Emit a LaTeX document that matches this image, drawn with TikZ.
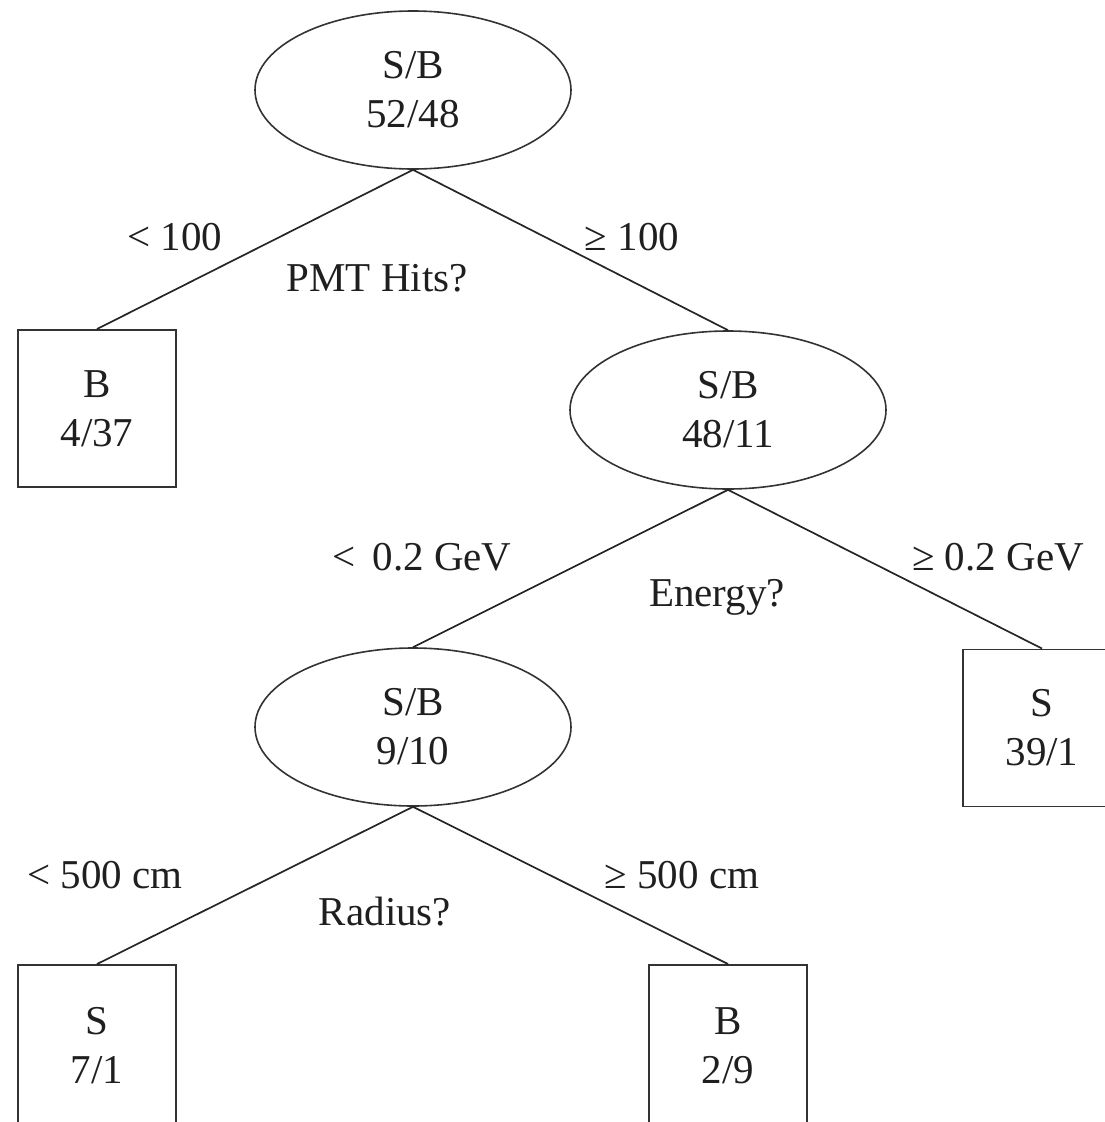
\documentclass[tikz,border=0pt]{standalone}
\usepackage{fontspec}
\setmainfont{Liberation Serif}
\usetikzlibrary{shapes.geometric}
\begin{document}
\begin{tikzpicture}[x=1pt,y=-1pt,
  every node/.style={font=\fontsize{41}{49}\selectfont, text=black!88, align=center},
  oval/.style={draw=black!80, line width=1.6pt, ellipse, inner sep=0pt, minimum width=316pt, minimum height=158pt},
  leaf/.style={draw=black!80, line width=1.9pt, rectangle, inner sep=0pt, minimum width=158pt, minimum height=157pt},
  edge/.style={draw=black!85, line width=1.7pt},
  lbl/.style={inner sep=0pt}]
\useasboundingbox (0,0) rectangle (1105,1122);
\clip (0,0) rectangle (1105,1122);
\node[oval] (r) at (413,90) {S/B\\52/48};
\node[leaf] (b1) at (97,408.5) {B\\4/37};
\node[oval] (e2) at (728,410) {S/B\\48/11};
\node[oval] (e3) at (413,727) {S/B\\9/10};
\node[leaf] (s1) at (1042,728) {S\\39/1};
\node[leaf, minimum height=162pt] (s2) at (97,1046) {S\\7/1};
\node[leaf, minimum height=162pt] (b2) at (728,1046) {B\\2/9};
\draw[edge] (r.south) -- (b1.north);
\draw[edge] (r.south) -- (e2.north);
\draw[edge] (e2.south) -- (e3.north);
\draw[edge] (e2.south) -- (s1.north);
\draw[edge] (e3.south) -- (s2.north);
\draw[edge] (e3.south) -- (b2.north);
\node[lbl] (l1) at (175,237) {< 100};
\node[lbl] (l2) at (632,237) {≥ 100};
\node[lbl] (q1) at (377,278) {PMT Hits?};
\node[lbl] (l3) at (422,557) {<\, 0.2 GeV};
\node[lbl] (l4) at (998,557) {≥ 0.2 GeV};
\node[lbl] (q2) at (717,597) {Energy?};
\node[lbl] (l5) at (105,875) {< 500 cm};
\node[lbl] (l6) at (682,875) {≥ 500 cm};
\node[lbl] (q3) at (385,912) {Radius?};
\end{tikzpicture}
\end{document}
